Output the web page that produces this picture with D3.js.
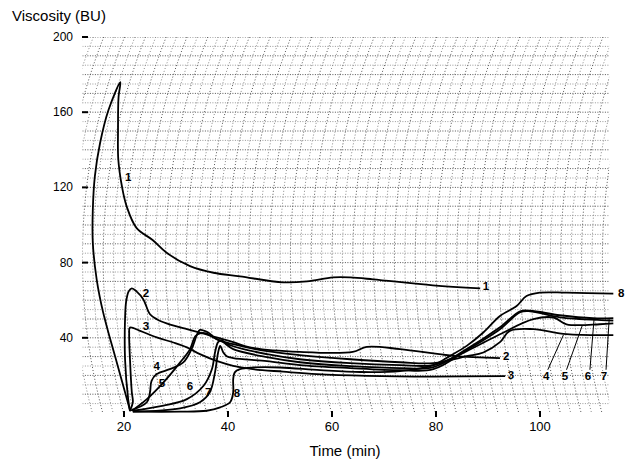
<html>
<head>
<script src="https://d3js.org/d3.v7.min.js"></script>
<style>
body { margin: 0; background: #fff; font-family: 'Liberation Sans', Arial, sans-serif; }
svg { display: block; }
.curve { fill: none; stroke: #000; stroke-width: 1.8; }
.lbl { font-size: 11.5px; font-weight: bold; }
</style>
</head>
<body>
<svg width="626" height="461"></svg>
<script>

// data: [time (min), viscosity (BU)]
var curve1 = [[21.2,1],[18.6,27],[16.0,53.4],[14.75,71],[14.0,90.6],[14.0,108],[14.4,126],[15.4,143.6],[17.0,161],[19.3,176],[18.95,168],[18.85,150],[18.9,135],[19.6,120.6],[20.5,110],[22.4,98.5],[25.5,92],[28.2,85.2],[32.7,78.1],[37.2,74.6],[42.3,72.7],[50.6,69.5],[55.2,70],[60.2,72.1],[63.5,72.1],[67.9,71.1],[79.4,67.9],[88.5,66.3]];
var curve2 = [[21.15,1],[20.8,7.4],[20.2,28.6],[20.2,50],[20.4,59],[20.9,64.7],[21.5,66.3],[22.4,64.7],[23.7,60.5],[25.0,52.5],[26.3,49.9],[28.2,47.7],[32.1,44.6],[34.6,42.8],[37.8,40.2],[41.0,37.7],[44.2,34.9],[53.8,32.5],[64,32.5],[66.7,35.2],[73.1,34],[83.3,30.4],[92.3,29.2]];
var curve3 = [[21.15,1.3],[21.7,5.8],[21.5,11.1],[21.15,28.6],[21.0,41.9],[21.15,45.5],[23.1,43.7],[26.3,40.2],[29.5,37.5],[32.1,34.9],[34.6,31.3],[37.8,27.7],[41.0,25.1],[44.8,23.3],[50.6,22.0],[57.1,20.7],[66.7,19.8],[79.4,19.4],[93.3,19.6]];
var curve4 = [[21.15,1.2],[24.4,5.7],[25,11],[25.3,17.1],[26.3,20.7],[28.8,23.3],[31.4,26.9],[33,34],[34,41.4],[34.6,44.2],[36.2,42.8],[37.8,39.3],[41,36.6],[47.5,32.9],[53.8,30.8],[63.5,28.6],[73.1,27],[79.5,26.5],[85.9,30.2],[89.1,32.2],[92.3,37.7],[94.2,43.7],[98.7,44.6],[105.1,41.9],[114.1,41.4]];
var curve5 = [[21.5,1.2],[24.4,7.4],[27.6,16.3],[30.8,26.9],[32.7,34],[33.7,40.8],[34.6,42.4],[35.8,42.4],[37.2,40.2],[41,35.5],[47.5,31.3],[53.8,28.6],[63.5,26.5],[73.1,25.5],[79.5,25.5],[85.9,32.9],[92.3,41.9],[98.7,49.9],[102.6,50.8],[105.1,47.2],[111.5,47.2],[114.1,47.7]];
var curve6 = [[21.7,1.2],[27.6,3.9],[32.1,7.4],[35.3,14.5],[36.9,23.3],[37.5,32.2],[38.1,37.7],[38.8,38.7],[39.6,36.6],[41,34],[47.5,29.7],[53.8,27],[63.5,24.9],[73.1,23.9],[79.5,24.4],[85.9,34],[92.3,45.6],[96.2,54.1],[98.1,54.4],[103.8,52],[110.2,50.4],[114.1,50.4]];
var curve7 = [[21.7,0.7],[30.8,2.5],[34.6,5.7],[36.5,11],[37.5,21.6],[38.1,32.2],[38.5,35.7],[39.1,32.2],[39.75,30.2],[41,29.2],[47.5,27.6],[53.8,25.5],[63.5,23.9],[73.1,22.8],[79.5,23.3],[85.9,33.4],[92.3,44.6],[96.2,53.6],[98.1,54.1],[103.8,50.9],[113,49.3],[114.1,49.1]];
var curve8 = [[21.7,0.7],[30.8,0.7],[35.9,1.2],[38.5,3],[40.4,5.7],[41,11],[41,18],[41.3,21.6],[42.3,23.3],[44.9,24.2],[50,24.2],[57.7,22.8],[65.4,21.8],[73.1,22.3],[79.5,25.5],[82.7,30.4],[85.9,35.7],[89.1,42.8],[92.3,51.6],[95.5,56.9],[97.4,62.2],[100,64],[105.1,64],[114.1,63.5]];

var curveNames = ["1","2","3","4","5","6","7","8"];
// label anchors [time, viscosity]
var leftLabels = [[20.8,125.5],[24.2,63.7],[24.2,46.2],[26.3,25],[27.3,16],[32.7,14.3],[36.2,11.1],[41.7,10.6]];
var rightLabels = [[89.6,67.4],[93.5,30.2],[94.4,20.2],[101.2,19.6],[104.8,19.6],[109.2,19.6],[112.3,19.6],[115.6,63.7]];
// leader lines for labels 4-7: [from, to]
var leaders = [[[101.5,23],[104.5,41.5]],[[105.1,23],[108.1,46.3]],[[109.6,23],[110.4,50.1]],[[112.7,23],[113.3,49.9]]];

var xTicks = [20,40,60,80,100];
var yTicks = [40,80,120,160,200];

var svg = d3.select("svg");

var x = d3.scaleLinear().domain([20,100]).range([124,540]);
var y = d3.scaleLinear().domain([0,200]).range([413,37]);

var pLeft = x(12), pRight = x(113.3), pTop = y(200), pBottom = y(0);

svg.append("clipPath").attr("id","plot")
  .append("rect").attr("x",pLeft).attr("y",pTop).attr("width",pRight-pLeft).attr("height",pBottom-pTop);

var grid = svg.append("g").attr("clip-path","url(#plot)");

// horizontal chart-paper lines
grid.selectAll("line.h").data(d3.range(5,201,5)).enter().append("line")
  .attr("x1",pLeft).attr("x2",pRight)
  .attr("y1",function(d){ return y(d); }).attr("y2",function(d){ return y(d); })
  .attr("stroke", function(d){ return d % 10 == 0 ? "#555" : "#999"; })
  .attr("stroke-width",1)
  .attr("stroke-dasharray","1,1.5");

// curved time lines (pen arc)
var R = 600, yc = 258;
var arcLine = d3.line();
grid.selectAll("path.arc").data(d3.range(4,116,2)).enter().append("path")
  .attr("fill","none")
  .attr("stroke", function(d){ return d % 4 == 0 ? "#555" : "#888"; })
  .attr("stroke-width",1)
  .attr("stroke-dasharray","1,2")
  .attr("d", function(t0){
    var pts = d3.range(pTop, pBottom+4, 4).map(function(py){
      return [x(t0) + R - Math.sqrt(R*R - (py-yc)*(py-yc)), py];
    });
    return arcLine(pts);
  });

// axes: tick marks only
svg.selectAll("line.yt").data(yTicks).enter().append("line")
  .attr("x1",82).attr("x2",88)
  .attr("y1",function(d){ return y(d); }).attr("y2",function(d){ return y(d); })
  .attr("stroke","#000").attr("stroke-width",2);
svg.selectAll("text.yl").data(yTicks).enter().append("text")
  .attr("x",73).attr("y",function(d){ return y(d)+4; })
  .attr("text-anchor","end").attr("font-size",12)
  .text(function(d){ return d; });

svg.selectAll("line.xt").data(xTicks).enter().append("line")
  .attr("x1",function(d){ return x(d); }).attr("x2",function(d){ return x(d); })
  .attr("y1",411).attr("y2",417)
  .attr("stroke","#000").attr("stroke-width",2);
svg.selectAll("text.xl").data(xTicks).enter().append("text")
  .attr("x",function(d){ return x(d); }).attr("y",431)
  .attr("text-anchor","middle").attr("font-size",13)
  .text(function(d){ return d; });

svg.append("text").attr("x",12).attr("y",21).attr("font-size",15).text("Viscosity (BU)");
svg.append("text").attr("x",345).attr("y",456).attr("text-anchor","middle").attr("font-size",15).text("Time (min)");

// curves
var curves = [curve1,curve2,curve3,curve4,curve5,curve6,curve7,curve8];
var line = d3.line()
  .x(function(d){ return x(d[0]); })
  .y(function(d){ return y(d[1]); })
  .curve(d3.curveCatmullRom.alpha(0.5));

svg.selectAll("path.curve").data(curves).enter().append("path")
  .attr("class","curve")
  .attr("d", line);

svg.selectAll("line.leader").data(leaders).enter().append("line")
  .attr("x1",function(d){ return x(d[0][0]); }).attr("y1",function(d){ return y(d[0][1]); })
  .attr("x2",function(d){ return x(d[1][0]); }).attr("y2",function(d){ return y(d[1][1]); })
  .attr("stroke","#000").attr("stroke-width",1);

function addLabels(pos){
  svg.selectAll(null).data(pos).enter().append("text")
    .attr("class","lbl")
    .attr("x",function(d){ return x(d[0]); })
    .attr("y",function(d){ return y(d[1])+4; })
    .attr("text-anchor","middle")
    .text(function(d,i){ return curveNames[i]; });
}
addLabels(leftLabels);
addLabels(rightLabels);

</script>
</body>
</html>
